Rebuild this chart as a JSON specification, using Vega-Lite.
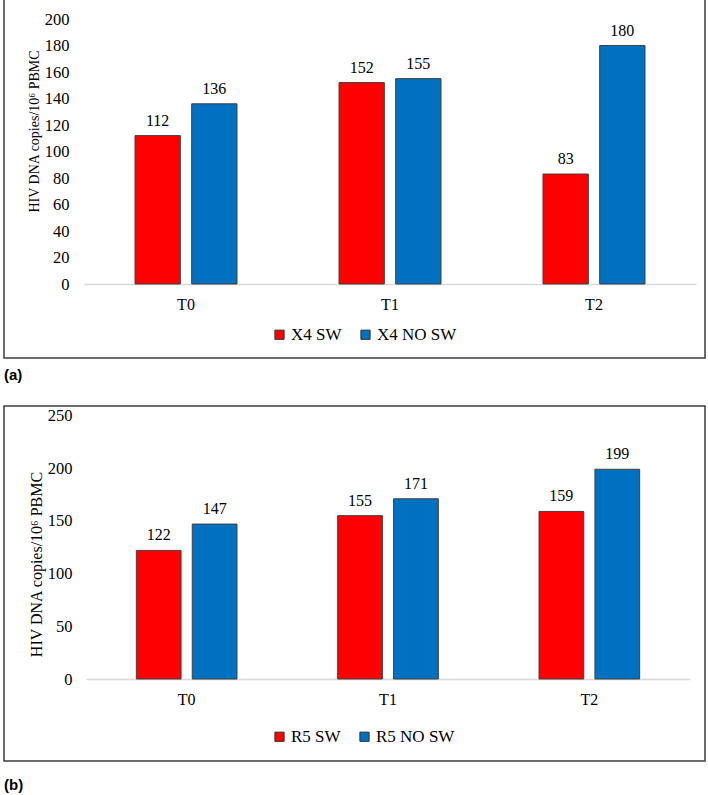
{
  "$schema": "https://vega.github.io/schema/vega-lite/v6.json",
  "background": "white",
  "padding": {"left": 3, "top": -2, "right": 0, "bottom": 0},
  "spacing": 21,
  "resolve": {
    "scale": {"color": "independent", "x": "independent", "xOffset": "independent", "y": "independent"},
    "legend": {"color": "independent"}
  },
  "datasets": {
    "a": [
      {"time": "T0", "group": "X4 SW", "value": 112},
      {"time": "T0", "group": "X4 NO SW", "value": 136},
      {"time": "T1", "group": "X4 SW", "value": 152},
      {"time": "T1", "group": "X4 NO SW", "value": 155},
      {"time": "T2", "group": "X4 SW", "value": 83},
      {"time": "T2", "group": "X4 NO SW", "value": 180}
    ],
    "b": [
      {"time": "T0", "group": "R5 SW", "value": 122},
      {"time": "T0", "group": "R5 NO SW", "value": 147},
      {"time": "T1", "group": "R5 SW", "value": 155},
      {"time": "T1", "group": "R5 NO SW", "value": 171},
      {"time": "T2", "group": "R5 SW", "value": 159},
      {"time": "T2", "group": "R5 NO SW", "value": 199}
    ]
  },
  "config": {
    "view": {"stroke": "#3c3c3c", "strokeWidth": 1.5},
    "axis": {
      "labelFont": "Liberation Serif",
      "labelFontSize": 16.5,
      "labelColor": "black",
      "titleFont": "Liberation Serif",
      "titleFontWeight": "normal",
      "titleColor": "black",
      "ticks": false,
      "tickSize": 0,
      "grid": false
    },
    "axisX": {"domainColor": "#d9d9d9", "domainWidth": 1.5, "labelPadding": 12, "labelAngle": 0, "labelFontSize": 16},
    "axisY": {"domain": false, "labelPadding": 2},
    "legend": {
      "title": null,
      "orient": "none",
      "direction": "horizontal",
      "symbolType": "square",
      "symbolSize": 85,
      "symbolStrokeColor": "#333333",
      "symbolStrokeWidth": 1,
      "labelFont": "Liberation Serif",
      "labelFontSize": 17,
      "labelColor": "black",
      "columnPadding": 15,
      "labelOffset": 3,
      "padding": 0
    },
    "text": {"font": "Liberation Serif", "fontSize": 16, "color": "black"}
  },
  "vconcat": [
    {
      "width": 701,
      "height": 359,
      "data": {"name": "a"},
      "title": {"text": "(a)", "orient": "bottom", "anchor": "start", "font": "Liberation Sans", "fontSize": 15, "fontWeight": "bold", "color": "black", "offset": 10},
      "encoding": {
        "x": {
          "field": "time",
          "type": "nominal",
          "scale": {"range": [80, 692], "paddingInner": 0.5, "paddingOuter": 0.25},
          "axis": {"title": null, "offset": -74}
        },
        "xOffset": {
          "field": "group",
          "type": "nominal",
          "sort": ["X4 SW", "X4 NO SW"],
          "scale": {"domain": ["X4 SW", "X4 NO SW"], "paddingInner": 0.2}
        },
        "y": {
          "field": "value",
          "type": "quantitative",
          "scale": {"domain": [0, 200], "range": [285, 20]},
          "axis": {
            "title": "HIV DNA copies/10⁶ PBMC",
            "titleFontSize": 14,
            "titlePadding": 3,
            "titleY": 132,
            "values": [0, 20, 40, 60, 80, 100, 120, 140, 160, 180, 200],
            "offset": -67
          }
        }
      },
      "layer": [
        {
          "mark": {"type": "bar", "stroke": "#404040", "strokeWidth": 1},
          "encoding": {
            "color": {
              "field": "group",
              "type": "nominal",
              "scale": {"domain": ["X4 SW", "X4 NO SW"], "range": ["#ff0000", "#0070c0"]},
              "legend": {"legendX": 267, "legendY": 327}
            }
          }
        },
        {
          "mark": {"type": "text", "baseline": "alphabetic", "dy": -10},
          "encoding": {"text": {"field": "value", "type": "quantitative"}}
        }
      ]
    },
    {
      "width": 701,
      "height": 355,
      "data": {"name": "b"},
      "title": {"text": "(b)", "orient": "bottom", "anchor": "start", "font": "Liberation Sans", "fontSize": 15, "fontWeight": "bold", "color": "black", "offset": 17},
      "encoding": {
        "x": {
          "field": "time",
          "type": "nominal",
          "scale": {"range": [82, 686], "paddingInner": 0.5, "paddingOuter": 0.25},
          "axis": {"title": null, "offset": -82}
        },
        "xOffset": {
          "field": "group",
          "type": "nominal",
          "sort": ["R5 SW", "R5 NO SW"],
          "scale": {"domain": ["R5 SW", "R5 NO SW"], "paddingInner": 0.2}
        },
        "y": {
          "field": "value",
          "type": "quantitative",
          "scale": {"domain": [0, 250], "range": [273, 9.5]},
          "axis": {
            "title": "HIV DNA copies/10⁶ PBMC",
            "titleFontSize": 16,
            "titlePadding": 3,
            "titleY": 158,
            "values": [0, 50, 100, 150, 200, 250],
            "offset": -70
          }
        }
      },
      "layer": [
        {
          "mark": {"type": "bar", "stroke": "#404040", "strokeWidth": 1},
          "encoding": {
            "color": {
              "field": "group",
              "type": "nominal",
              "scale": {"domain": ["R5 SW", "R5 NO SW"], "range": ["#ff0000", "#0070c0"]},
              "legend": {"legendX": 267, "legendY": 322}
            }
          }
        },
        {
          "mark": {"type": "text", "baseline": "alphabetic", "dy": -10},
          "encoding": {"text": {"field": "value", "type": "quantitative"}}
        }
      ]
    }
  ]
}
